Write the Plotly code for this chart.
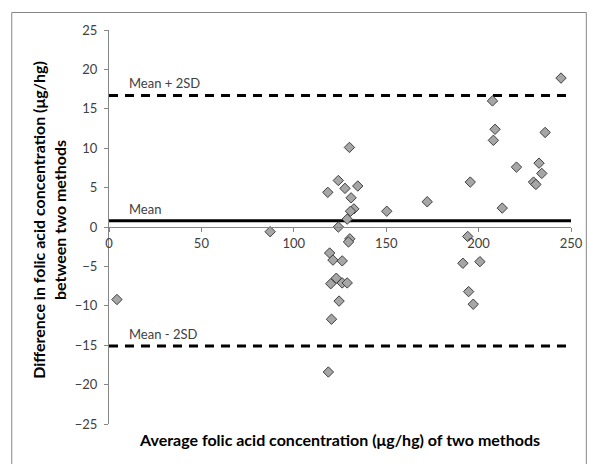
import plotly.graph_objects as go

avg_conc = [4.3, 87.2, 118.4, 124.1, 127.7, 134.6, 130.1, 131.0, 132.5, 130.7, 128.9, 124.1,
            130.3, 129.6, 119.4, 121.2, 126.2, 123.0, 120.0, 126.2, 128.9, 124.5, 120.4, 118.7,
            150.3, 172.2, 191.5, 194.1, 194.6, 197.1, 195.5, 200.7, 207.5, 208.9, 208.0, 212.8,
            220.5, 229.7, 231.0, 232.7, 234.2, 236.0, 244.6]
diff_conc = [-9.2, -0.6, 4.4, 5.9, 4.9, 5.2, 10.1, 3.7, 2.3, 2.0, 1.0, 0.0,
             -1.5, -1.9, -3.3, -4.2, -4.3, -6.5, -7.2, -7.1, -7.1, -9.4, -11.7, -18.4,
             2.0, 3.2, -4.6, -1.2, -8.2, -9.8, 5.7, -4.4, 16.0, 12.4, 11.0, 2.4,
             7.6, 5.7, 5.4, 8.1, 6.8, 12.0, 18.9]

mean_diff = 0.8
upper_loa = 16.7
lower_loa = -15.1
line_x = [0, 250]

x_ticks = [0, 50, 100, 150, 200, 250]
y_ticks = [-25, -20, -15, -10, -5, 0, 5, 10, 15, 20, 25]

FONT = "Lato"
W, H = 595, 464
ML, MR, MT, MB = 109, 18, 30, 40
PW, PH = W - ML - MR, H - MT - MB

def px(xp):
    return (xp - ML) / PW

def py(yp):
    return (H - MB - yp) / PH

fig = go.Figure()

fig.add_trace(go.Scatter(x=line_x, y=[upper_loa, upper_loa], mode="lines",
                         line=dict(color="#000000", width=3, dash="9px,7px"),
                         hoverinfo="skip", showlegend=False))
fig.add_trace(go.Scatter(x=line_x, y=[lower_loa, lower_loa], mode="lines",
                         line=dict(color="#000000", width=3, dash="9px,7px"),
                         hoverinfo="skip", showlegend=False))
fig.add_trace(go.Scatter(x=line_x, y=[mean_diff, mean_diff], mode="lines",
                         line=dict(color="#000000", width=3),
                         hoverinfo="skip", showlegend=False))

fig.add_trace(go.Scatter(x=avg_conc, y=diff_conc, mode="markers",
                         marker=dict(symbol="diamond", size=8, color="#a6a6a6",
                                     line=dict(color="#3f3f3f", width=1)),
                         showlegend=False))

label_font = dict(family=FONT, size=13, color="#404040")
fig.add_annotation(x=10, y=upper_loa, xref="x", yref="y", text="Mean + 2SD",
                   showarrow=False, xanchor="left", yanchor="bottom", yshift=2, font=label_font)
fig.add_annotation(x=10, y=mean_diff, xref="x", yref="y", text="Mean",
                   showarrow=False, xanchor="left", yanchor="bottom", yshift=2, font=label_font)
fig.add_annotation(x=10, y=lower_loa, xref="x", yref="y", text="Mean - 2SD",
                   showarrow=False, xanchor="left", yanchor="bottom", yshift=2, font=label_font)

title_font = dict(family=FONT, size=16, color="#000000")
fig.add_annotation(x=px(48), y=py(220), xref="paper", yref="paper",
                   text="<b>Difference in folic acid concentration (μg/hg)<br>between two methods</b>",
                   textangle=-90, showarrow=False, font=title_font,
                   xanchor="center", yanchor="middle")
fig.add_annotation(x=px(342), y=py(439), xref="paper", yref="paper",
                   text="<b>Average folic acid concentration (μg/hg) of two methods</b>",
                   showarrow=False, font=title_font, xanchor="center", yanchor="middle")

fig.add_shape(type="rect", xref="paper", yref="paper",
              x0=px(10.5), x1=px(592.5), y0=py(470), y1=py(12.5),
              line=dict(color="#868686", width=1), fillcolor="rgba(0,0,0,0)", layer="below")

fig.update_layout(
    width=W, height=H,
    margin=dict(l=ML, r=MR, t=MT, b=MB),
    paper_bgcolor="white", plot_bgcolor="white",
    font=dict(family=FONT, size=13, color="#404040"),
    xaxis=dict(range=[0, 250], tickvals=x_ticks, showgrid=False, zeroline=False,
               showline=True, linecolor="#868686", linewidth=1,
               ticks="outside", ticklen=4, tickcolor="#868686",
               anchor="free", position=0.5,
               tickfont=dict(family=FONT, size=13, color="#404040")),
    yaxis=dict(range=[-25, 25], tickvals=y_ticks, showgrid=False, zeroline=False,
               showline=True, linecolor="#868686", linewidth=1,
               ticks="outside", ticklen=4, tickcolor="#868686",
               ticklabelstandoff=4,
               tickfont=dict(family=FONT, size=13, color="#404040")),
)

fig.write_html("out.html")
